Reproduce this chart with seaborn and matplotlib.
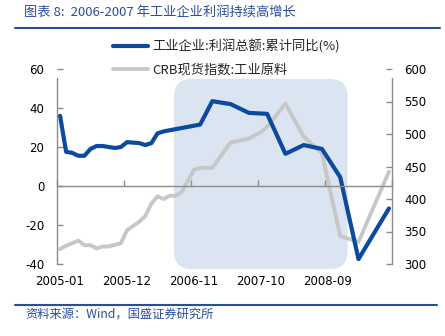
import matplotlib
matplotlib.use("Agg")
import matplotlib.pyplot as plt
from matplotlib.patches import FancyBboxPatch
from matplotlib.lines import Line2D
from matplotlib.transforms import IdentityTransform
import seaborn as sns
import pandas as pd

# ---------------- data ----------------
profit_months = ['2005-01', '2005-02', '2005-03', '2005-04', '2005-05', '2005-06', '2005-07',
                 '2005-08', '2005-10', '2005-11', '2005-12', '2006-02', '2006-03', '2006-04',
                 '2006-05', '2006-06', '2006-12', '2007-02', '2007-05', '2007-08', '2007-11',
                 '2008-02', '2008-05', '2008-08', '2008-11', '2009-02', '2009-07']
profit_values = [36, 17.5, 17, 15.5, 15.5, 19, 20.5,
                 20.5, 19.5, 20, 22.5, 22, 21, 22,
                 27, 28, 31.5, 43.5, 42, 37.5, 37,
                 16.5, 21, 19, 4.5, -37.5, -11.5]

crb_months = ['2005-01', '2005-02', '2005-04', '2005-05', '2005-06', '2005-07', '2005-08',
              '2005-09', '2005-11', '2005-12', '2006-02', '2006-03', '2006-04', '2006-05',
              '2006-06', '2006-07', '2006-08', '2006-09', '2006-11', '2006-12', '2007-02',
              '2007-05', '2007-08', '2007-10', '2007-11', '2008-02', '2008-05', '2008-08',
              '2008-11', '2009-02', '2009-07']
crb_values = [323, 328, 336, 329, 329, 324, 327,
              327, 332, 352, 365, 374, 393, 404,
              400, 405, 405, 411, 445, 448, 448,
              487, 493, 503, 511, 547, 496, 470,
              343, 334, 442]

tick_labels = ['2005-01', '2005-12', '2006-11', '2007-10', '2008-09']
left_ticks = [-40, -20, 0, 20, 40, 60]
right_ticks = [300, 350, 400, 450, 500, 550, 600]
series_names = ['工业企业:利润总额:累计同比(%)', 'CRB现货指数:工业原料']
title_text = '图表 8:  2006-2007 年工业企业利润持续高增长'
source_text = '资料来源：Wind，国盛证券研究所'

# ---------------- style ----------------
BLUE = '#0B4A9E'
GRAY = '#C7C7C7'
AXIS = '#8C8C8C'
SHADE = '#DBE4F1'
HEAD = '#2A4E9C'
CJK = ['Noto Sans CJK SC', 'DejaVu Sans']

sns.set_theme(style='white')
plt.rcParams['font.family'] = ['DejaVu Sans', 'Noto Sans CJK SC']
plt.rcParams['axes.unicode_minus'] = False


def month_pos(s):
    y, m = map(int, s.split('-'))
    return (y - 2005) * 12 + (m - 1) + 0.5


df_p = pd.DataFrame({'x': [month_pos(m) for m in profit_months], 'v': profit_values})
df_c = pd.DataFrame({'x': [month_pos(m) for m in crb_months], 'v': crb_values})

W, H = 445, 336
fig = plt.figure(figsize=(W / 100, H / 100), dpi=100)
fig.patch.set_facecolor('white')
ax = fig.add_axes([57 / W, 72 / H, 335 / W, 195 / H])
ax2 = ax.twinx()

sns.lineplot(data=df_p, x='x', y='v', ax=ax, color=BLUE, lw=3.0,
             label=series_names[0], legend=False)
sns.lineplot(data=df_c, x='x', y='v', ax=ax2, color=GRAY, lw=2.8,
             label=series_names[1], legend=False)

ax.set_zorder(ax2.get_zorder() + 1)
ax.patch.set_visible(False)
ax2.patch.set_visible(False)

ax.set_xlim(0, 55)
ax.set_ylim(-40, 60)
ax2.set_ylim(300, 600)
for a in (ax, ax2):
    a.set_xlabel('')
    a.set_ylabel('')

# spines
ax.spines['top'].set_visible(False)
ax.spines['right'].set_visible(False)
ax.spines['bottom'].set_position(('data', 0))
ax.spines['bottom'].set_color(AXIS)
ax.spines['left'].set_color(AXIS)
ax.spines['left'].set_bounds(-40, 55.4)
for s in ('top', 'left', 'bottom'):
    ax2.spines[s].set_visible(False)
ax2.spines['right'].set_color(AXIS)
ax2.spines['right'].set_bounds(300, 586.5)
for sp in list(ax.spines.values()) + list(ax2.spines.values()):
    sp.set_linewidth(1.0)

# x ticks: marks on the zero line, labels at category centres at bottom
ax.set_xticks(list(range(0, 56, 11)))
ax.set_xticks([month_pos(t) for t in tick_labels], labels=tick_labels, minor=True)
ax.tick_params(axis='x', which='major', direction='in', length=4, width=1,
               color=AXIS, labelbottom=False, bottom=True)
ax.tick_params(axis='x', which='minor', length=0, labelbottom=False, bottom=False)
ax2.xaxis.set_visible(True)
ax2.tick_params(axis='x', which='major', length=0, bottom=False, labelbottom=False)
ax2.tick_params(axis='x', which='minor', length=0, bottom=True, labelbottom=True,
                pad=8, labelsize=8.5, labelcolor='black')

# y ticks
ax.set_yticks(left_ticks)
ax.tick_params(axis='y', direction='in', length=4, width=1, color=AXIS,
               pad=9, labelsize=8.5, labelcolor='black', left=True)
ax2.set_yticks(right_ticks)
ax2.tick_params(axis='y', direction='in', length=4, width=1, color=AXIS,
                pad=9, labelsize=8.5, labelcolor='black', right=True)

# shaded period (rounded box)
fig.canvas.draw()
x0, y0 = ax.transData.transform((19.2, -42.6))
x1, y1 = ax.transData.transform((47.7, 54.9))
shade = FancyBboxPatch((x0, y0), x1 - x0, y1 - y0,
                       boxstyle='round,pad=0,rounding_size=18',
                       transform=IdentityTransform(), facecolor=SHADE,
                       edgecolor='none', zorder=-1)
fig.add_artist(shade)

# legend
handles = [Line2D([], [], color=BLUE, lw=3.0), Line2D([], [], color=GRAY, lw=2.8)]
fig.legend(handles, series_names, loc='upper left',
           bbox_to_anchor=(113 / W, 1 - 39 / H), frameon=False,
           prop={'family': CJK, 'size': 9.5}, handlelength=2.65,
           handletextpad=0.3, labelspacing=0.76, borderaxespad=0, borderpad=0)

# header / footer
fig.text(24 / W, 1 - 13 / H, title_text, color=HEAD, fontsize=9.5,
         style='italic', va='center', ha='left', family=CJK)
fig.add_artist(Line2D([15 / W, 440 / W], [1 - 28 / H] * 2, transform=fig.transFigure,
                      color=HEAD, lw=1.5))
fig.add_artist(Line2D([15 / W, 437 / W], [1 - 305 / H] * 2, transform=fig.transFigure,
                      color=HEAD, lw=1.5))
fig.text(25 / W, 1 - 314 / H, source_text, color=HEAD, fontsize=8.8,
         style='italic', va='center', ha='left', family=CJK)

fig.savefig('out.png', dpi=100)
